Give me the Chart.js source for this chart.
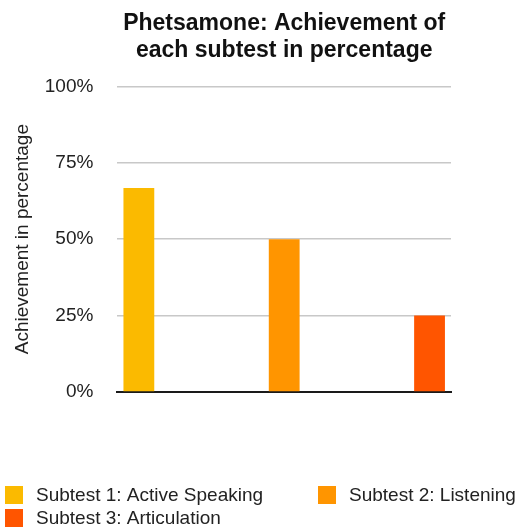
<!DOCTYPE html>
<html>
<head>
<meta charset="utf-8">
<script src="https://cdn.jsdelivr.net/npm/chart.js@4/dist/chart.umd.min.js"></script>
<style>
  html, body { margin: 0; padding: 0; background: #fff; }
  #wrap { width: 520px; height: 530px; }
</style>
</head>
<body>
<div id="wrap"><canvas id="chart" width="520" height="530"></canvas></div>
<script>
const chartTitle = ["Phetsamone: Achievement of", "each subtest in percentage"];
const yAxisTitle = "Achievement in percentage";
const categories = [""];
const seriesNames = ["Subtest 1: Active Speaking", "Subtest 2: Listening", "Subtest 3: Articulation"];
const seriesValues = [66.7, 50, 25];
const seriesColors = ["#fbba00", "#ff9500", "#ff5500"];
const yTicks = [0, 25, 50, 75, 100];

const FONT = "'Liberation Sans', Arial, Helvetica, sans-serif";

// legend drawn in two fixed columns like the original
const gridLegend = {
  id: "gridLegend",
  afterDraw(chart) {
    const ctx = chart.ctx;
    const cols = [5, 318];
    const rows = [486, 509];
    ctx.save();
    ctx.font = "19px " + FONT;
    ctx.textBaseline = "middle";
    chart.data.datasets.forEach((ds, i) => {
      const x = cols[i % 2];
      const y = rows[Math.floor(i / 2)];
      ctx.fillStyle = ds.backgroundColor;
      ctx.fillRect(x, y, 18, 18);
      ctx.fillStyle = "#222";
      ctx.fillText(ds.label, x + 31, y + 10);
    });
    ctx.restore();
  }
};

const datasets = seriesNames.map((name, i) => ({
  label: name,
  data: [seriesValues[i]],
  backgroundColor: seriesColors[i],
  borderWidth: 0,
  categoryPercentage: 1.307,
  barPercentage: 0.212
}));

new Chart(document.getElementById("chart"), {
  type: "bar",
  data: { labels: categories, datasets: datasets },
  plugins: [gridLegend],
  options: {
    responsive: false,
    animation: false,
    layout: { padding: { left: 11, right: 69, top: 0, bottom: 130 } },
    plugins: {
      legend: { display: false },
      tooltip: { enabled: false },
      title: {
        display: true,
        fullSize: false,
        text: chartTitle,
        color: "#111",
        font: { family: FONT, size: 23, weight: "bold", lineHeight: 1.18 },
        padding: { top: 10, bottom: 22 }
      }
    },
    scales: {
      x: {
        grid: { display: false },
        border: { display: true, color: "#1a1a1a", width: 2 },
        ticks: { display: false }
      },
      y: {
        min: 0,
        max: 100,
        afterBuildTicks: (axis) => { axis.ticks = yTicks.map((v) => ({ value: v })); },
        border: { display: false },
        grid: {
          drawTicks: false,
          color: (c) => (c.tick && c.tick.value === 0 ? "rgba(0,0,0,0)" : "#c8c8c8"),
          lineWidth: 1.5
        },
        ticks: {
          padding: 24,
          color: "#222",
          font: { family: FONT, size: 19 },
          callback: (v) => v + "%"
        },
        title: {
          display: true,
          text: yAxisTitle,
          color: "#222",
          font: { family: FONT, size: 19 },
          padding: { top: 0, bottom: -13 }
        }
      }
    }
  }
});
</script>
</body>
</html>
